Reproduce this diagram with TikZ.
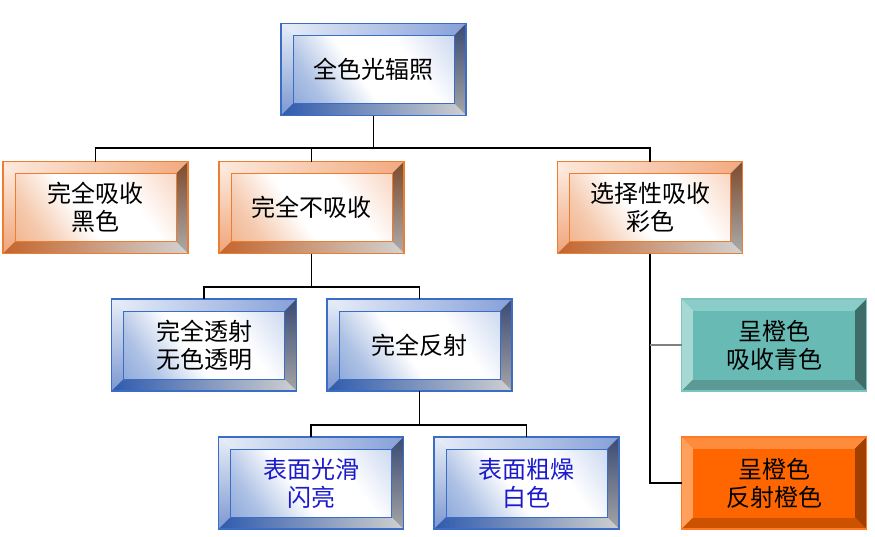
\documentclass[tikz,border=0pt]{standalone}
\usepackage{fontspec}
\newfontfamily\cjk{Noto Sans CJK SC}
% blue scheme
\definecolor{bBorder}{HTML}{3B6CC6}
\definecolor{bInner}{HTML}{3B6CC6}
\definecolor{bFaceT}{HTML}{8FAADD}
\definecolor{bFaceB}{HTML}{4A76C4}
\definecolor{bTopL}{HTML}{E8EEF8}
\definecolor{bTopR}{HTML}{86A0D8}
\definecolor{bLeftT}{HTML}{E8EEF8}
\definecolor{bLeftB}{HTML}{7C98D0}
\definecolor{bRightT}{HTML}{3A4A74}
\definecolor{bRightB}{HTML}{A5A5A5}
\definecolor{bBotL}{HTML}{2F5BAE}
\definecolor{bBotR}{HTML}{CFCFCF}
% orange gradient scheme
\definecolor{oBorder}{HTML}{ED7D31}
\definecolor{oInner}{HTML}{ED7D31}
\definecolor{oFaceT}{HTML}{F2A47A}
\definecolor{oFaceB}{HTML}{E9894C}
\definecolor{oTopL}{HTML}{FCE9DC}
\definecolor{oTopR}{HTML}{F2AA80}
\definecolor{oLeftT}{HTML}{FDEFE6}
\definecolor{oLeftB}{HTML}{EFA478}
\definecolor{oRightT}{HTML}{7E4B2C}
\definecolor{oRightB}{HTML}{ABABAB}
\definecolor{oBotL}{HTML}{C4652C}
\definecolor{oBotR}{HTML}{D2D2D2}
% teal scheme
\definecolor{tBorder}{HTML}{7EC5C0}
\definecolor{tInner}{HTML}{68BAB4}
\definecolor{tFace}{HTML}{68BAB4}
\definecolor{tTopL}{HTML}{8ACDC8}
\definecolor{tTopR}{HTML}{8ACDC8}
\definecolor{tLeftT}{HTML}{A6D8D4}
\definecolor{tLeftB}{HTML}{A6D8D4}
\definecolor{tRightT}{HTML}{3E6D69}
\definecolor{tRightB}{HTML}{3E6D69}
\definecolor{tBotL}{HTML}{5B9A95}
\definecolor{tBotR}{HTML}{5B9A95}
% solid orange scheme
\definecolor{sBorder}{HTML}{FF7A22}
\definecolor{sInner}{HTML}{FF6600}
\definecolor{sFace}{HTML}{FF6600}
\definecolor{sTopL}{HTML}{FF8B3D}
\definecolor{sTopR}{HTML}{FF8B3D}
\definecolor{sLeftT}{HTML}{FFA05C}
\definecolor{sLeftB}{HTML}{FFA05C}
\definecolor{sRightT}{HTML}{A04000}
\definecolor{sRightB}{HTML}{A04000}
\definecolor{sBotL}{HTML}{CC5200}
\definecolor{sBotR}{HTML}{CC5200}
\definecolor{blueText}{HTML}{1A1ACC}
\definecolor{connGray}{HTML}{808080}

\pgfdeclarehorizontalshading{bfaceshade}{100bp}{color(0bp)=(bFaceB); color(30bp)=(bFaceB!45!white); color(45bp)=(white); color(62bp)=(white); color(100bp)=(bFaceT)}
\pgfdeclarehorizontalshading{ofaceshade}{100bp}{color(0bp)=(oFaceB); color(30bp)=(oFaceB!45!white); color(45bp)=(white); color(62bp)=(white); color(100bp)=(oFaceT)}

\newcommand\bevelparts[1]{%
  \path (path picture bounding box.north west) coordinate (pA)
        (path picture bounding box.north east) coordinate (pB)
        (path picture bounding box.south east) coordinate (pC)
        (path picture bounding box.south west) coordinate (pD);
  \path ([xshift=12pt,yshift=-12pt]pA) coordinate (qA)
        ([xshift=-12pt,yshift=-12pt]pB) coordinate (qB)
        ([xshift=-12pt,yshift=12pt]pC) coordinate (qC)
        ([xshift=12pt,yshift=12pt]pD) coordinate (qD);
  \shade[left color=#1TopL, right color=#1TopR] (pA) -- (pB) -- (qB) -- (qA) -- cycle;
  \shade[top color=#1LeftT, bottom color=#1LeftB] (pA) -- (qA) -- (qD) -- (pD) -- cycle;
  \shade[top color=#1RightT, bottom color=#1RightB] (pB) -- (pC) -- (qC) -- (qB) -- cycle;
  \shade[left color=#1BotL, right color=#1BotR] (pD) -- (qD) -- (qC) -- (pC) -- cycle;
  \draw[#1Inner, line width=0.8pt] (qA) rectangle (qC);
}

\tikzset{
  box/.style={draw=#1Border, line width=1.2pt, minimum width=185pt, minimum height=92pt,
    inner sep=0pt, outer sep=0pt, align=center,
    font=\cjk\fontsize{24}{28}\selectfont, path picture={\bevelparts{#1}}},
  gradface/.style={shade, shading=#1faceshade, shading angle=35},
  conn/.style={draw=black, line width=1.1pt},
  conngray/.style={draw=connGray, line width=2pt},
}

\begin{document}
\begin{tikzpicture}[x=1pt,y=-1pt]
\fill[white] (0,0) rectangle (875,536);
\useasboundingbox (0,0) rectangle (875,536);

\node[box=b, gradface=b] (top) at (373.5,69.5) {全色光辐照};
\node[box=o, gradface=o] (r2a) at (95.5,207.5) {完全吸收\\黑色};
\node[box=o, gradface=o] (r2b) at (311.5,207.5) {完全不吸收};
\node[box=o, gradface=o] (r2c) at (650,207.5) {选择性吸收\\彩色};
\node[box=b, gradface=b] (r3a) at (204,345) {完全透射\\无色透明};
\node[box=b, gradface=b] (r3b) at (419.5,345) {完全反射};
\node[box=t, fill=tFace] (r3c) at (774,345) {呈橙色\\吸收青色};
\node[box=b, gradface=b, text=blueText] (r4a) at (311,483) {表面光滑\\闪亮};
\node[box=b, gradface=b, text=blueText] (r4b) at (526.5,483) {表面粗燥\\白色};
\node[box=s, fill=sFace] (r4c) at (774,483) {呈橙色\\反射橙色};

\coordinate (j1) at (373.5,148);
\coordinate (j2) at (311.5,287);
\coordinate (j3) at (419.5,425);

\draw[conn] (top.south) -- (j1);
\draw[conn] (r2a.north) |- (j1) -| (r2c.north);
\draw[conn] (r2b.north) -- (r2b.north |- j1);

\draw[conn] (r2b.south) -- (j2);
\draw[conn] (r3a.north) |- (j2) -| (r3b.north);

\draw[conn] (r3b.south) -- (j3);
\draw[conn] (r4a.north) |- (j3) -| (r4b.north);

\draw[conn] (r2c.south) |- (r4c.west);
\draw[conngray] (r2c.south |- r3c.west) -- (r3c.west);
\end{tikzpicture}
\end{document}
